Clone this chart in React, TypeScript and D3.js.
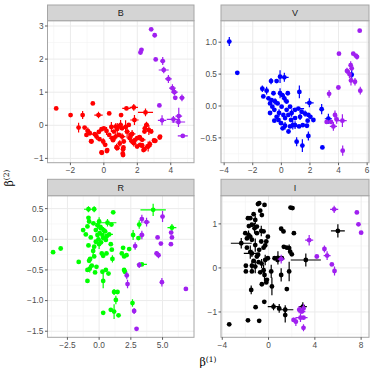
import React from "react";
import * as d3 from "d3";

type P = [number, number, number, number]; // x, y, xerr, yerr

const panelNames = ["B", "V", "R", "I"];
const mainColors = ["#FF0000", "#0000FF", "#00FF00", "#000000"];
const purple = "#A020F0";

const bMain: P[] = [
  [-2.85, 0.51, 0, 0], [-1.99, 0.31, 0, 0], [-1.27, 0.31, 0, 0.12], [-0.66, 0.66, 0, 0],
  [-0.32, 0.31, 0.25, 0.1], [0.32, 0.36, 0, 0], [-1.51, -0.07, 0, 0.15], [-1.15, -0.07, 0, 0],
  [-0.96, -0.17, 0.15, 0.1], [-1.04, -0.29, 0, 0], [-0.84, -0.24, 0, 0], [-0.54, -0.27, 0.2, 0],
  [-0.74, -0.49, 0, 0], [-0.44, -0.34, 0, 0.1], [-0.26, -0.42, 0, 0], [-0.14, -0.12, 0, 0],
  [0, -0.09, 0, 0], [-0.04, -0.49, 0, 0.1], [0.08, -0.59, 0, 0], [-0.14, -0.82, 0, 0],
  [0.2, -0.75, 0, 0], [0.16, -0.17, 0, 0.12], [0.32, -0.29, 0, 0], [0.5, -0.39, 0.2, 0],
  [0.6, -0.19, 0, 0], [0.7, -0.04, 0.2, 0.1], [0.8, -0.11, 0, 0.18], [0.9, -0.04, 0, 0],
  [1.0, 0.01, 0.15, 0.15], [1.09, -0.09, 0, 0], [0.7, -0.34, 0, 0.1], [0.9, -0.29, 0, 0],
  [1.09, -0.34, 0.2, 0.1], [1.19, -0.49, 0, 0], [0.8, -0.69, 0.15, 0], [1.15, -0.72, 0, 0.1],
  [1.15, -0.9, 0, 0], [1.35, 0.51, 0.25, 0], [1.79, 0.54, 0.25, 0.1], [1.03, 0.31, 0, 0],
  [1.83, 0.16, 0.25, 0.15], [2.49, 0.39, 0.45, 0.12], [1.49, 0.01, 0, 0], [1.39, -0.19, 0.15, 0.2],
  [1.59, -0.29, 0, 0], [1.55, -0.39, 0, 0.12], [1.69, -0.49, 0.15, 0], [1.99, -0.39, 0, 0],
  [2.15, -0.37, 0, 0], [2.29, -0.44, 0.2, 0], [2.45, -0.09, 0, 0.1], [2.55, 0.01, 0.15, 0.1],
  [2.43, -0.19, 0, 0], [2.69, -0.14, 0.25, 0.15], [2.83, -0.19, 0, 0], [3.02, -0.47, 0, 0],
  [3.08, -0.47, 0, 0], [3.34, -0.37, 0, 0], [2.29, -0.61, 0, 0], [2.43, -0.72, 0, 0],
  [2.65, -0.64, 0.2, 0.15], [2.75, -0.57, 0, 0.1], [2.17, -0.59, 0, 0], [1.99, -0.64, 0, 0],
  [1.79, -0.54, 0.15, 0.1], [-0.76, -0.48, 0, 0], [-0.12, -0.83, 0, 0], [0.18, -0.78, 0, 0],
  [0.76, -0.66, 0, 0.1], [1.13, -0.85, 0, 0], [1.17, -0.67, 0, 0], [1.69, -0.26, 0.2, 0.12],
  [1.87, -0.44, 0, 0], [2.13, -0.36, 0, 0], [2.27, -0.61, 0, 0], [2.37, -0.75, 0, 0],
  [2.61, -0.64, 0, 0], [3.0, -0.46, 0, 0], [3.36, -0.34, 0, 0], [0.45, -0.05, 0, 0.15],
  [0.55, -0.45, 0, 0], [-0.3, -0.2, 0, 0], [1.3, -0.05, 0.15, 0.2], [0.95, -0.55, 0, 0.1],
];
const bPurple: P[] = [
  [2.83, 2.9, 0, 0], [3.04, 2.72, 0, 0.06], [2.19, 2.2, 0, 0.05], [2.25, 2.28, 0, 0.05],
  [3.1, 1.99, 0, 0], [3.52, 1.94, 0.15, 0.12], [3.58, 1.67, 0.3, 0.1], [3.86, 1.4, 0.2, 0.12],
  [4.1, 1.12, 0.2, 0.12], [4.22, 1.0, 0.2, 0.1], [4.27, 0.83, 0, 0], [4.67, 0.83, 0.15, 0.1],
  [3.32, 0.6, 0, 0], [3.48, 0.15, 0.25, 0.15], [4.16, 0.18, 0.4, 0.1], [4.48, 0.28, 0.2, 0.25],
  [4.46, 0.1, 0.4, 0.15], [4.72, -0.32, 0.3, 0.06],
];

const vMain: P[] = [
  [-3.64, 1.01, 0, 0.07], [-3.08, 0.52, 0, 0], [-1.33, 0.27, 0, 0.05], [-1.26, 0.15, 0, 0],
  [-1.03, 0.24, 0, 0.06], [-0.72, 0.39, 0, 0.05], [-0.33, 0.39, 0, 0], [-0.09, 0.46, 0, 0.1],
  [0.21, 0.45, 0.3, 0.07], [-0.68, 0.09, 0, 0], [-0.44, 0.07, 0, 0.05], [-0.63, -0.01, 0, 0],
  [-0.79, -0.11, 0, 0], [-0.49, -0.06, 0, 0], [-0.26, 0.04, 0, 0], [-0.09, 0.2, 0, 0.08],
  [0.07, 0.17, 0, 0], [0.21, 0.12, 0, 0.06], [0.37, 0.07, 0, 0], [0.02, -0.01, 0, 0],
  [-0.16, -0.11, 0, 0.06], [0.14, -0.14, 0, 0], [0.37, -0.06, 0, 0], [0.61, -0.01, 0, 0],
  [0.72, -0.11, 0, 0.06], [0.96, -0.06, 0, 0], [1.19, -0.04, 0.4, 0], [1.31, -0.17, 0, 0.05],
  [0.96, -0.19, 0, 0], [0.68, -0.22, 0, 0], [0.26, -0.19, 0, 0], [-0.02, -0.27, 0, 0],
  [0.26, -0.31, 0, 0.06], [0.09, -0.35, 0, 0], [0.61, -0.32, 0, 0], [0.96, -0.3, 0, 0.06],
  [1.24, -0.32, 0, 0], [1.26, 0.22, 0, 0.1], [-0.49, -0.23, 0, 0], [-0.79, 0.04, 0, 0],
  [-0.33, -0.17, 0, 0], [0.49, -0.14, 0, 0], [1.42, -0.09, 0, 0], [1.66, -0.12, 0.2, 0.05],
  [1.89, -0.14, 0, 0], [1.96, 0.05, 0.3, 0.07], [1.84, -0.23, 0, 0], [2.03, -0.17, 0, 0],
  [2.24, -0.22, 0, 0], [1.79, -0.31, 0, 0], [1.89, -0.47, 0, 0.07], [1.07, -0.56, 0, 0.07],
  [1.47, -0.62, 0, 0.1], [2.87, -0.65, 0, 0], [2.82, -0.05, 0, 0.08], [3.29, -0.2, 0.25, 0.08],
  [4.92, 0.49, 0, 0.08], [-0.55, 0.2, 0, 0], [0.45, 0.2, 0, 0], [0.8, -0.3, 0, 0.07],
  [-0.2, -0.22, 0, 0], [0.5, -0.4, 0, 0], [1.5, -0.3, 0, 0], [-0.9, 0.12, 0, 0],
];
const vPurple: P[] = [
  [5.48, 1.18, 0, 0], [4.03, 0.82, 0, 0], [5.03, 0.82, 0, 0], [5.2, 0.79, 0, 0],
  [5.29, 0.77, 0, 0.04], [4.59, 0.55, 0, 0.05], [4.85, 0.64, 0, 0.06], [4.92, 0.59, 0, 0],
  [4.76, 0.5, 0, 0.06], [4.87, 0.4, 0, 0.08], [5.15, 0.38, 0, 0.06], [5.52, 0.24, 0, 0.06],
  [3.99, 0.29, 0, 0], [3.34, 0.19, 0, 0.06], [3.17, -0.25, 0, 0], [3.47, -0.25, 0, 0],
  [3.75, -0.14, 0, 0.07], [3.87, -0.21, 0, 0.07], [3.64, -0.32, 0.25, 0.07], [4.27, -0.23, 0.3, 0.1],
  [4.29, -0.7, 0, 0.08],
];

const rMain: P[] = [
  [-3.63, -0.21, 0, 0], [-3.03, -0.15, 0, 0], [-1.61, -0.37, 0, 0], [-1.26, 0.15, 0, 0],
  [-1.05, 0.08, 0, 0], [-0.84, 0.49, 0.35, 0.05], [-0.39, 0.49, 0, 0.05], [-0.84, 0.35, 0, 0],
  [-0.79, 0.29, 0, 0], [-0.92, 0.21, 0, 0], [-0.66, 0.03, 0, 0], [-0.84, -0.1, 0, 0],
  [-0.39, -0.12, 0, 0], [-0.26, -0.04, 0, 0], [-0.45, 0.26, 0, 0], [-0.13, 0.23, 0, 0.06],
  [0, 0.29, 0, 0.07], [0.13, 0.18, 0, 0], [-0.26, 0.15, 0, 0], [0.05, 0.1, 0, 0],
  [0.26, 0.07, 0, 0], [0.47, 0.13, 0, 0], [-0.13, 0.07, 0, 0], [0.32, 0.02, 0, 0],
  [0.53, -0.01, 0, 0], [0, -0.08, 0, 0.08], [0.66, 0.27, 0.7, 0.06], [0.97, 0.24, 0, 0],
  [1.11, 0.44, 0, 0], [0.79, 0.08, 0.3, 0], [0.21, -0.23, 0, 0], [0.32, -0.27, 0, 0],
  [0.58, -0.23, 0, 0], [0.92, -0.08, 0, 0], [1.0, -0.17, 0, 0], [-0.39, -0.28, 0, 0],
  [-0.47, -0.19, 0, 0.08], [-0.71, -0.32, 0, 0], [-0.79, -0.35, 0, 0], [-0.58, -0.43, 0, 0],
  [-0.21, -0.45, 0, 0], [-0.92, -0.5, 0, 0], [-0.74, -0.48, 0, 0.06], [-0.32, -0.54, 0, 0],
  [-0.92, -0.68, 0, 0], [0.26, -0.53, 0, 0], [0.53, -0.5, 0, 0], [0.74, -0.56, 0, 0],
  [0.32, -0.68, 0, 0.12], [1.05, -0.32, 0, 0.06], [1.79, -0.23, 0, 0], [1.89, -0.14, 0, 0],
  [1.97, -0.28, 0, 0], [2.16, -0.26, 0, 0], [2.37, -0.16, 0, 0], [1.97, -0.5, 0, 0],
  [2.03, -0.53, 0, 0], [2.68, 0.07, 0, 0.08], [3.16, 0.24, 0, 0.07], [3.1, 0.02, 0, 0],
  [3.37, -0.41, 0.4, 0], [4.26, 0.48, 1.0, 0.1], [5.74, 0.19, 0.35, 0.06], [1.18, -0.86, 0, 0.05],
  [1.45, -0.86, 0, 0], [1.32, -0.99, 0, 0.07], [0.92, -1.15, 0, 0], [1.18, -1.18, 0, 0.12],
  [1.53, -1.24, 0, 0], [0.32, -1.2, 0, 0], [2.63, -1.04, 0, 0.06], [0.1, 0.2, 0, 0],
  [0.35, 0.15, 0, 0.05], [0.6, 0.05, 0, 0], [-0.05, 0.0, 0, 0], [0.15, -0.05, 0, 0],
];
const rPurple: P[] = [
  [3.37, 0.33, 0, 0.07], [3.74, 0.28, 0.25, 0.07], [5.0, 0.37, 0, 0.09], [2.84, -0.11, 0, 0.06],
  [3.37, 0.07, 0.2, 0.07], [4.61, 0.03, 0, 0], [4.87, -0.07, 0, 0], [4.53, -0.23, 0, 0.04],
  [4.68, -0.26, 0, 0.05], [5.68, 0.11, 0, 0], [5.74, 0.03, 0, 0], [5.66, -0.08, 0, 0],
  [3.16, -0.42, 0, 0.05], [2.18, -0.59, 0, 0.06], [2.24, -0.73, 0, 0.07], [4.95, -0.7, 0, 0.07],
  [6.84, -0.81, 0, 0], [2.76, -1.17, 0, 0.05], [2.95, -1.46, 0, 0],
];

const iMain: P[] = [
  [-3.4, -1.28, 0, 0], [-1.78, -1.19, 0, 0], [-0.81, -1.2, 0, 0], [-1.12, -0.89, 0, 0],
  [-0.37, -0.77, 0, 0], [-0.92, 1.45, 0, 0], [-0.81, 1.47, 0, 0], [-0.35, 1.43, 0, 0],
  [-0.72, 1.3, 0, 0], [-0.58, 1.2, 0, 0], [-1.29, 1.22, 0, 0], [-1.58, 1.13, 0, 0],
  [-1.78, 1.13, 0, 0], [-1.15, 1.09, 0, 0.1], [-1.44, 0.98, 0, 0], [-1.01, 0.94, 0, 0],
  [-1.21, 0.9, 0, 0.12], [-2.01, 0.79, 0, 0], [-1.73, 0.75, 0, 0.1], [-1.87, 0.67, 0, 0],
  [-1.58, 0.71, 0, 0], [-1.44, 0.64, 0, 0], [-1.01, 0.79, 0, 0], [-0.63, 0.84, 0, 0.12],
  [-0.43, 0.83, 0, 0], [-0.06, 0.71, 0, 0], [-0.63, 0.6, 0, 0], [-1.15, 0.52, 0, 0.15],
  [-0.43, 0.46, 0, 0], [-0.29, 0.51, 0, 0], [-0.81, 0.41, 0, 0], [-2.36, 0.56, 0.9, 0.12],
  [-1.87, 0.46, 0, 0], [-1.58, 0.36, 0, 0.15], [-1.44, 0.33, 0.7, 0.08], [-1.01, 0.26, 0, 0],
  [-1.29, 0.16, 0, 0], [-0.86, 0.13, 0, 0], [-0.29, 0.18, 0, 0.12], [-0.06, 0.22, 0, 0],
  [0.52, 0.22, 0, 0], [0.81, 0.23, 0.3, 0.15], [1.15, 0.22, 0, 0], [-1.96, 0.05, 0, 0],
  [-1.96, -0.08, 0, 0], [-1.44, 0.05, 0, 0.12], [-1.44, -0.08, 0, 0], [-1.15, 0.03, 0, 0.15],
  [-0.72, -0.1, 0, 0], [-0.43, -0.05, 0, 0.12], [-0.35, -0.16, 0, 0.15], [-0.14, -0.27, 0, 0],
  [-0.2, -0.33, 0, 0], [-0.58, -0.37, 0, 0], [0.29, -0.42, 0, 0.2], [0.23, -0.08, 0, 0.15],
  [0.78, 0.18, 0, 0], [1.09, -0.16, 0, 0.15], [-1.5, -0.5, 0, 0.1], [1.09, 0.89, 0, 0],
  [1.29, 0.83, 0, 0], [2.19, 0.79, 0, 0], [1.9, 1.37, 0, 0], [2.07, 1.36, 0, 0],
  [1.32, 0.48, 0, 0], [1.58, 0.46, 0, 0], [1.78, 0.45, 0, 0.08], [1.87, 0.37, 0, 0],
  [2.01, 0.31, 0, 0], [1.78, -0.08, 0, 0.22], [1.58, -0.48, 0, 0], [3.22, 0.18, 1.3, 0.15],
  [5.99, 0.84, 0.6, 0.15], [0.43, -0.88, 0.5, 0.08], [0.92, -0.92, 0, 0.1], [1.44, -0.95, 0.7, 0.1],
  [1.44, -1.07, 0, 0.17], [2.96, -0.88, 0.35, 0.1], [-0.9, 0.3, 0, 0], [-0.6, 0.1, 0, 0.1],
  [-1.7, 0.95, 0, 0], [-0.2, 0.6, 0, 0],
];
const iPurple: P[] = [
  [5.67, 1.33, 0.35, 0.08], [7.63, 1.26, 0, 0], [7.77, 0.99, 0, 0], [8.0, 0.8, 0, 0],
  [3.51, 0.63, 0.35, 0.12], [4.83, 0.43, 0, 0.08], [5.06, 0.28, 0.3, 0.1], [4.17, 0.26, 0, 0],
  [5.47, 0.08, 0, 0], [5.7, -0.07, 0, 0.1], [1.09, 0.2, 0.3, 0.1], [2.65, -0.95, 0, 0.08],
  [2.88, -0.99, 0.3, 0], [3.02, -0.92, 0, 0.1], [2.76, -1.13, 0.4, 0.1], [3.02, -1.13, 0.35, 0],
  [2.16, -1.18, 0, 0.05], [2.36, -1.22, 0, 0.1], [3.02, -1.36, 0, 0.08],
];

const xDomains: [number, number][] = [[-3.37, 5.39], [-4.22, 6.13], [-4.07, 7.48], [-4.11, 8.68]];
const yDomains: [number, number][] = [[-1.13, 3.16], [-0.889, 1.337], [-1.599, 0.711], [-1.575, 1.64]];
const xTicks: number[][] = [[-2, 0, 2, 4], [-4, -2, 0, 2, 4, 6], [-2.5, 0, 2.5, 5], [-4, 0, 4, 8]];
const yTicks: number[][] = [[-1, 0, 1, 2, 3], [-0.5, 0, 0.5, 1], [-1.5, -1, -0.5, 0, 0.5], [-1, 0, 1]];
const xFormats = [d3.format("d"), d3.format("d"), d3.format(".1f"), d3.format("d")];
const yFormats = [d3.format("d"), d3.format(".1f"), d3.format(".1f"), d3.format("d")];

const mains = [bMain, vMain, rMain, iMain];
const purples = [bPurple, vPurple, rPurple, iPurple];

const W = 374, H = 374;
const cols = [[47.5, 194], [221, 369]];
const rows = [[5, 20.7, 162.7], [179.3, 195.7, 337.3]];
const FONT = "Liberation Sans, Arial, sans-serif";

function minors(ticks: number[], dom: [number, number]) {
  const step = ticks[1] - ticks[0];
  const out: number[] = [];
  const start = ticks[0] - step / 2;
  for (let v = start - step * 3; v <= dom[1]; v += step) {
    if (v >= dom[0] && v <= dom[1]) out.push(v);
  }
  return out;
}

function Panel({ idx }: { idx: number }) {
  const c = cols[idx % 2];
  const r = rows[Math.floor(idx / 2)];
  const x = d3.scaleLinear().domain(xDomains[idx]).range([c[0], c[1]]);
  const y = d3.scaleLinear().domain(yDomains[idx]).range([r[2], r[1]]);
  const xt = xTicks[idx].filter((t) => t >= xDomains[idx][0] && t <= xDomains[idx][1]);
  const yt = yTicks[idx].filter((t) => t >= yDomains[idx][0] && t <= yDomains[idx][1]);
  const xm = minors(xTicks[idx], xDomains[idx]);
  const ym = minors(yTicks[idx], yDomains[idx]);
  const clip = `clip${idx}`;
  const drawSeries = (pts: P[], color: string, key: string) => (
    <g key={key}>
      {pts.map((p, i) => (
        <g key={i}>
          {p[2] > 0 && (
            <line x1={x(p[0] - p[2])} x2={x(p[0] + p[2])} y1={y(p[1])} y2={y(p[1])} stroke={color} strokeWidth={1.2} />
          )}
          {p[3] > 0 && (
            <line x1={x(p[0])} x2={x(p[0])} y1={y(p[1] - p[3])} y2={y(p[1] + p[3])} stroke={color} strokeWidth={1.2} />
          )}
          <circle cx={x(p[0])} cy={y(p[1])} r={2.4} fill={color} />
        </g>
      ))}
    </g>
  );
  return (
    <g>
      <defs>
        <clipPath id={clip}>
          <rect x={c[0]} y={r[1]} width={c[1] - c[0]} height={r[2] - r[1]} />
        </clipPath>
      </defs>
      <rect x={c[0]} y={r[1]} width={c[1] - c[0]} height={r[2] - r[1]} fill="#FFFFFF" />
      {xm.map((v, i) => (
        <line key={"xm" + i} x1={x(v)} x2={x(v)} y1={r[1]} y2={r[2]} stroke="#F4F4F4" strokeWidth={0.6} />
      ))}
      {ym.map((v, i) => (
        <line key={"ym" + i} x1={c[0]} x2={c[1]} y1={y(v)} y2={y(v)} stroke="#F4F4F4" strokeWidth={0.6} />
      ))}
      {xt.map((v, i) => (
        <line key={"xg" + i} x1={x(v)} x2={x(v)} y1={r[1]} y2={r[2]} stroke="#EBEBEB" strokeWidth={1} />
      ))}
      {yt.map((v, i) => (
        <line key={"yg" + i} x1={c[0]} x2={c[1]} y1={y(v)} y2={y(v)} stroke="#EBEBEB" strokeWidth={1} />
      ))}
      <g clipPath={`url(#${clip})`}>
        {drawSeries(mains[idx], mainColors[idx], "m")}
        {drawSeries(purples[idx], purple, "p")}
      </g>
      <rect x={c[0]} y={r[1]} width={c[1] - c[0]} height={r[2] - r[1]} fill="none" stroke="#A6A6A6" strokeWidth={1} />
      <rect x={c[0]} y={r[0]} width={c[1] - c[0]} height={r[1] - r[0]} fill="#D4D4D4" stroke="#A6A6A6" strokeWidth={1} />
      <text x={(c[0] + c[1]) / 2} y={(r[0] + r[1]) / 2 + 3.3} textAnchor="middle" fontSize={9} fill="#1A1A1A" fontFamily={FONT}>
        {panelNames[idx]}
      </text>
      {xt.map((v, i) => (
        <g key={"xt" + i}>
          <line x1={x(v)} x2={x(v)} y1={r[2]} y2={r[2] + 2.5} stroke="#333333" strokeWidth={0.8} />
          <text x={x(v)} y={r[2] + 10.5} textAnchor="middle" fontSize={8.3} fill="#4D4D4D" fontFamily={FONT}>
            {xFormats[idx](v)}
          </text>
        </g>
      ))}
      {yt.map((v, i) => (
        <g key={"yt" + i}>
          <line x1={c[0] - 2.5} x2={c[0]} y1={y(v)} y2={y(v)} stroke="#333333" strokeWidth={0.8} />
          <text x={c[0] - 4} y={y(v) + 2.9} textAnchor="end" fontSize={8.3} fill="#4D4D4D" fontFamily={FONT}>
            {yFormats[idx](v)}
          </text>
        </g>
      ))}
    </g>
  );
}

export default function App() {
  return (
    <svg width={W} height={H} style={{ position: "absolute", left: 0, top: 0, background: "#FFFFFF" }}>
      <rect x={0} y={0} width={W} height={H} fill="#FFFFFF" />
      {[0, 1, 2, 3].map((i) => (
        <Panel key={i} idx={i} />
      ))}
      <text x={208} y={366} textAnchor="middle" fontSize={11} fill="#000000" fontFamily="DejaVu Serif, serif">
        β<tspan fontSize={7.5} dy={-4}>(1)</tspan>
      </text>
      <text transform="translate(13,178) rotate(-90)" textAnchor="middle" fontSize={11} fill="#000000" fontFamily="DejaVu Serif, serif">
        β<tspan fontSize={7.5} dy={-4}>(2)</tspan>
      </text>
    </svg>
  );
}
